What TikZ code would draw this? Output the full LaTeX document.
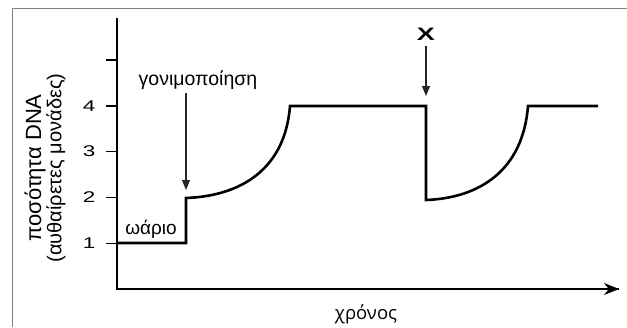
\documentclass[tikz,border=0pt]{standalone}
\usepackage{fontspec}
\setmainfont{Liberation Sans}
\newfontfamily\axisfont{Open Sans}
\usetikzlibrary{arrows.meta}
\tikzset{
  frameline/.style={draw=black!50, line width=0.9pt},
  axisline/.style={line width=1.8pt},
  dnaline/.style={line width=2.6pt, line join=miter},
  pointer/.style={line width=1.1pt, draw=black!85, -{Triangle[length=10pt,width=8pt]}},
  ticklbl/.style={font=\fontsize{15.5}{18}\selectfont, xscale=1.45, anchor=center}
}

\begin{document}
\begin{tikzpicture}[x=1pt, y=-1pt]
	%%%%% START %%%%%
	\useasboundingbox (0,0) rectangle (627,327);
	
	\draw[frameline] (12,327) -- (12,8) -- (627,8);
	
	% axes
	\coordinate (origin) at (117,289);
	\coordinate (ytop) at (117,18);
	\coordinate (xend) at (619,289);
	\draw[axisline] (ytop) -- (origin) -- (xend);
	\draw[axisline, -{Stealth[length=15pt,width=12pt]}] (origin) -- (xend);
	
	% ticks
	\foreach \v in {1,...,5} {
		\draw[line width=1.4pt] (106,{289-45.8*\v}) -- (117,{289-45.8*\v});
	}
	\foreach \v in {1,...,4} {
		\node[ticklbl] (tick\v) at (89,{289-45.8*\v}) {\v};
	}
	
	% DNA curve
	\coordinate (egg0) at (117,243);
	\coordinate (egg1) at (186,243);
	\coordinate (fert) at (186,198);
	\coordinate (top1) at (290,106);
	\coordinate (drop) at (426,106);
	\coordinate (low2) at (426,200);
	\coordinate (top2) at (528,106);
	\coordinate (tail) at (598,106);
	\draw[dnaline] (egg0) -- (egg1) -- (fert)
		.. controls (240,196) and (285,170) .. (top1) -- (drop) -- (low2)
		.. controls (480,198) and (523,170) .. (top2) -- (tail);
	
	% labels
	\node[font=\fontsize{19.5}{22}\selectfont] (gonim) at (198,80) {γονιμοποίηση};
	\draw[pointer] (186,93) -- (186,190);
	\node[font=\fontsize{18}{20}\selectfont\bfseries, xscale=1.5] (xmark) at (426,34) {X};
	\draw[pointer] (426,46) -- (426,96);
	\node[font=\fontsize{19}{22}\selectfont] (egg) at (151,229) {ωάριο};
	\node[font=\fontsize{18.5}{22}\selectfont\axisfont] (time) at (366,314) {χρόνος};
	\node[rotate=90, font=\fontsize{22}{24}\selectfont] (amount) at (35,168) {ποσότητα DNA};
	\node[rotate=90, font=\fontsize{20}{22}\selectfont] (units) at (56,168) {(αυθαίρετες μονάδες)};
	%%%%% END %%%%%
\end{tikzpicture}
\end{document}
